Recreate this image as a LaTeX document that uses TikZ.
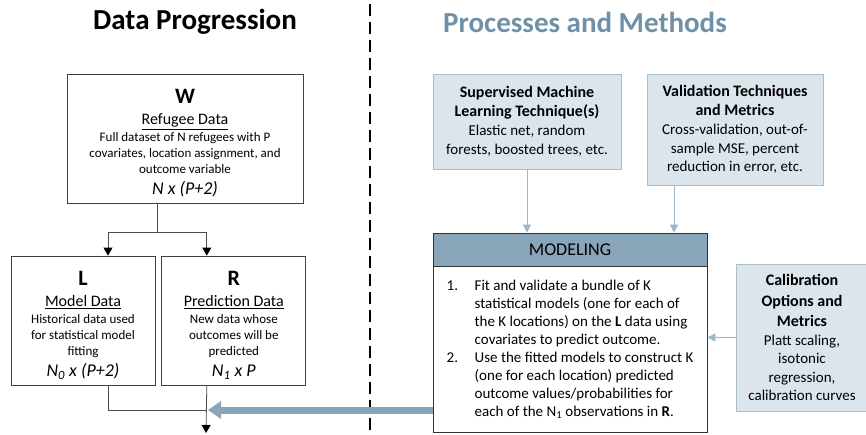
\documentclass[tikz,border=0pt]{standalone}
\usepackage{fontspec}
\setmainfont{Carlito}
\usepackage{tikz}
\usetikzlibrary{arrows.meta, positioning}

\definecolor{titleblue}{HTML}{7090A8}
\definecolor{modelblue}{HTML}{88A5B9}
\definecolor{boxfill}{HTML}{DCE5EC}
\definecolor{boxline}{HTML}{A9BECD}
\definecolor{feedblue}{HTML}{9FB6C7}

\newcommand{\headfont}{\fontsize{16}{19}\selectfont\bfseries}
\newcommand{\letterfont}{\fontsize{22}{22}\selectfont\bfseries\rule{0pt}{24pt}}
\newcommand{\namefont}{\fontsize{16}{16}\selectfont}
\newcommand{\sizefont}{\fontsize{18}{18}\selectfont\itshape}

\begin{document}
\begin{tikzpicture}[
    x=1pt, y=-1pt,
    title/.style={font=\fontsize{29}{34}\selectfont\bfseries},
    databox/.style={rectangle, draw=black!75, line width=0.8pt, minimum width=144pt, minimum height=129pt, inner sep=0pt, align=center, font=\fontsize{13}{16}\selectfont},
    infobox/.style={rectangle, draw=boxline, fill=boxfill, line width=1pt, inner sep=0pt, align=center, font=\fontsize{15}{18.5}\selectfont},
    modelbox/.style={rectangle, draw=black!80, line width=0.8pt, minimum width=274pt, inner sep=0pt},
    link/.style={draw=black!70, line width=0.8pt},
    arrow/.style={link, -{Triangle[width=9pt,length=8pt,color=black]}},
    feed/.style={draw=feedblue, line width=1pt, -{Triangle[width=8pt,length=8pt]}},
    bigarrow/.style={draw=modelblue, line width=7pt, -{Triangle[width=17pt,length=13pt]}}
]
\useasboundingbox (0,0) rectangle (866,434);

% Titles and divider
\node[title] (lefttitle) at (195,22) {Data Progression};
\node[title, text=titleblue] (righttitle) at (585,22) {Processes and Methods};
\coordinate (dtop) at (370,4);
\coordinate (dbot) at (370,434);
\draw[line width=2.6pt, dash pattern=on 12pt off 6pt] (dtop) -- (dbot);

% Data progression
\node[databox, minimum width=236pt] (W) at (185,138.5)
    {{\letterfont W}\\[5pt]{\namefont\underline{Refugee Data}}\\[1pt]Full dataset of N refugees with P\\covariates, location assignment, and\\outcome variable\\[5pt]{\sizefont N x (P+2)}};
\node[databox] (L) at (83,320.5)
    {{\letterfont L}\\[5pt]{\namefont\underline{Model Data}}\\[1pt]Historical data used\\for statistical model\\fitting\\[5pt]{\sizefont N\textsubscript{0} x (P+2)}};
\node[databox, right=6pt of L] (R)
    {{\letterfont R}\\[5pt]{\namefont\underline{Prediction Data}}\\[1pt]New data whose\\outcomes will be\\predicted\\[5pt]{\sizefont N\textsubscript{1} x P}};

% Processes and methods
\node[infobox, minimum width=188pt, minimum height=95pt] (sml) at (527,121.5)
    {{\headfont Supervised Machine}\\{\headfont Learning Technique(s)}\\[1pt]Elastic net, random\\forests, boosted trees, etc.};
\node[infobox, minimum width=176pt, minimum height=111pt] (val) at (735,129.5)
    {{\headfont Validation Techniques}\\{\headfont and Metrics}\\[1pt]Cross-validation, out-of-\\sample MSE, percent\\reduction in error, etc.};
\node[modelbox, fill=modelblue, minimum height=33pt, font=\fontsize{18}{22}\selectfont] (modelhead) at (570,249.5) {MODELING};
\node[modelbox, minimum height=166pt, below=0pt of modelhead, font=\fontsize{15}{18}\selectfont] (modelbody)
    {\begin{tabular}{@{}p{28pt}@{}l@{}}
     1. & Fit and validate a bundle of K\\
        & statistical models (one for each of\\
        & the K locations) on the \textbf{L} data using\\
        & covariates to predict outcome.\\
     2. & Use the fitted models to construct K\\
        & (one for each location) predicted\\
        & outcome values/probabilities for\\
        & each of the N\textsubscript{1} observations in \textbf{R}.
     \end{tabular}};
\node[infobox, minimum width=131pt, minimum height=147pt] (calib) at (802,337.5)
    {{\headfont Calibration}\\[2pt]{\headfont Options and}\\[2pt]{\headfont Metrics}\\Platt scaling,\\isotonic\\regression,\\calibration curves};

% Connectors
\coordinate (split) at (157,232);
\coordinate (join) at (206,410);
\coordinate (out) at (206,433);
\draw[link] (W.south -| split) -- (split);
\draw[arrow] (split) -| ([xshift=25pt]L.north);
\draw[arrow] (split) -| ([xshift=-27pt]R.north);
\draw[link] ([xshift=25pt]L.south) |- (join);
\draw[arrow] ([xshift=-27pt]R.south) -- (out);
\draw[feed] (sml.south) -- (sml.south |- modelhead.north);
\draw[feed] ([xshift=-61pt]val.south) -- ([xshift=-61pt]val.south |- modelhead.north);
\draw[feed] (calib.west) -- (calib.west -| modelbody.east);
\draw[bigarrow] (modelbody.west |- join) -- ([xshift=2pt]join);

\end{tikzpicture}
\end{document}
